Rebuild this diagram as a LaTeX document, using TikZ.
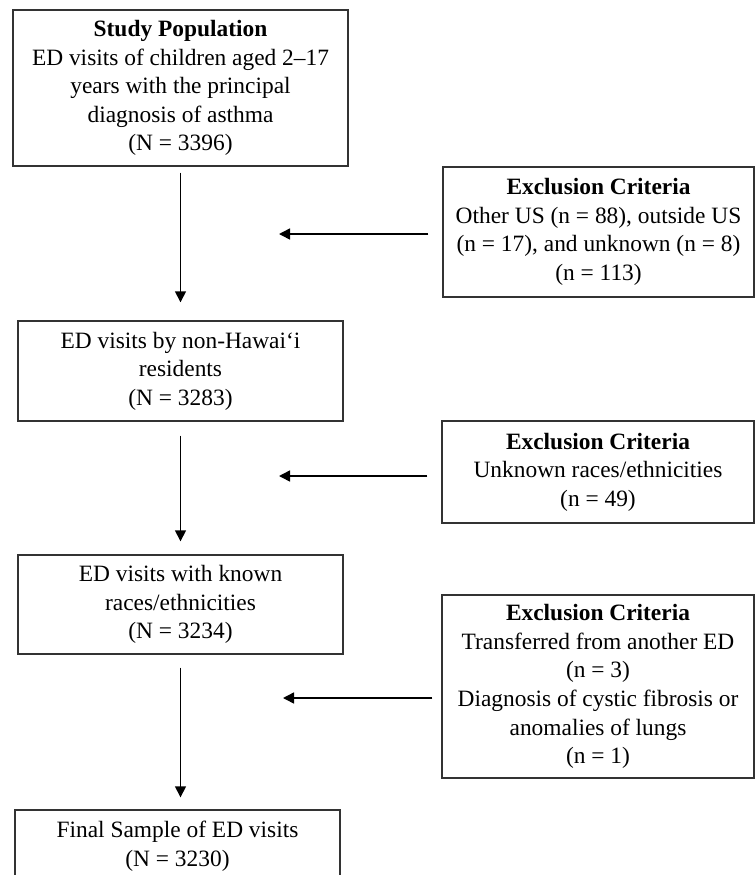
\documentclass[tikz,border=0pt]{standalone}
\usepackage{fontspec}
\setmainfont{Liberation Serif}
\usepackage{tikz}
\usetikzlibrary{arrows.meta,positioning}
\definecolor{boxline}{HTML}{333333}

\begin{document}
\begin{tikzpicture}[x=1pt,y=-1pt,
    box/.style={draw=boxline,line width=1.4pt,inner sep=0pt,align=center,
      font=\fontsize{23.4pt}{28.6pt}\selectfont},
    arr/.style={-{Triangle[length=11pt,width=11pt]},line width=1.5pt}]
  \useasboundingbox[fill=white] (0,0) rectangle (755,875);
  % main flow
  \node[box,minimum width=335pt,minimum height=156pt] (pop) at (180.5,88)
    {\textbf{Study Population}\\ED visits of children aged 2--17\\years with the principal\\diagnosis of asthma\\(N = 3396)};
  \node[box,minimum width=325pt,minimum height=100pt] (res) at (180.5,371)
    {ED visits by non-Hawai‘i\\residents\\(N = 3283)};
  \node[box,minimum width=325pt,minimum height=99pt] (known) at (180.5,604.5)
    {ED visits with known\\races/ethnicities\\(N = 3234)};
  \node[box,minimum width=325pt,minimum height=73pt] (final) at (177.5,846.5)
    {Final Sample of ED visits\\(N = 3230)};
  % exclusions
  \node[box,minimum width=311pt,minimum height=130pt] (excl1) at (598.5,232)
    {\textbf{Exclusion Criteria}\\Other US (n = 88), outside US\\(n = 17), and unknown (n = 8)\\(n = 113)};
  \node[box,minimum width=312pt,minimum height=102pt] (excl2) at (598,472)
    {\textbf{Exclusion Criteria}\\Unknown races/ethnicities\\(n = 49)};
  \node[box,minimum width=312pt,minimum height=183pt] (excl3) at (598,686.5)
    {\textbf{Exclusion Criteria}\\Transferred from another ED\\(n = 3)\\Diagnosis of cystic fibrosis or\\anomalies of lungs\\(n = 1)};
  \coordinate (x1) at (279,234);
  \coordinate (x2) at (279,476);
  \coordinate (x3) at (283,698);

  \draw[arr,shorten <=6pt,shorten >=18pt] (pop.south) -- (pop.south |- res.north);
  \draw[arr,shorten <=14pt,shorten >=13pt] (res.south) -- (res.south |- known.north);
  \draw[arr,shorten <=13pt,shorten >=12pt] (known.south) -- (known.south |- final.north);
  \draw[arr,shorten <=14pt] (excl1.west |- x1) -- (x1);
  \draw[arr,shorten <=14pt] (excl2.west |- x2) -- (x2);
  \draw[arr,shorten <=9pt] (excl3.west |- x3) -- (x3);
\end{tikzpicture}
\end{document}
